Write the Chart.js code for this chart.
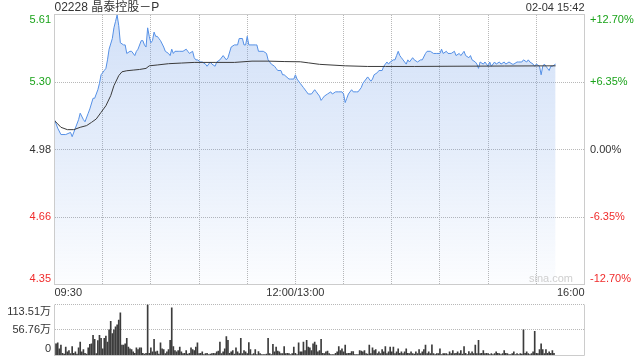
<!DOCTYPE html>
<html>
<head>
<meta charset="utf-8">
<script src="https://cdn.jsdelivr.net/npm/chart.js@4.4.1/dist/chart.umd.min.js"></script>
<style>
  html, body { margin: 0; padding: 0; background: #fff; }
  #wrap { position: relative; width: 640px; height: 360px; }
  #price { position: absolute; left: 0; top: 0; }
  #volume { position: absolute; left: 0; top: 300px; }
</style>
</head>
<body>
<div id="wrap">
  <canvas id="price" width="640" height="300"></canvas>
  <canvas id="volume" width="640" height="60"></canvas>
</div>
<script>
const stockTitle = '02228 晶泰控股－P';
const stampText = '02-04 15:42';
const watermark = 'sina.com';
const prevClose = 4.98;
const pctSteps = [-12.70, -6.35, 0, 6.35, 12.70];
const priceTickLabels = ['4.35', '4.66', '4.98', '5.30', '5.61'];
const pctTickLabels = ['-12.70%', '-6.35%', '0.00%', '+6.35%', '+12.70%'];
const timeLabels = ['09:30', '12:00/13:00', '16:00'];
const timeLabelMinutes = [0, 150, 330];
const volTicks = [0, 56.76, 113.51];
const volTickLabels = ['0', '56.76万', '113.51万'];

// minutes after 09:30 (lunch break removed), last price
const priceMinutes = [0, 2, 4, 7, 10, 11, 13, 15, 16, 18, 19, 21, 22, 24, 25, 27, 28, 29, 31, 32,
  33, 34, 36, 37, 38, 39, 40, 41, 43, 44, 45, 47, 48, 50, 51, 52, 54, 55, 56, 57,
  58, 59, 60, 61, 62, 63, 64, 65, 66, 68, 69, 71, 72, 73, 74, 75, 77, 78, 80, 82,
  83, 84, 86, 87, 88, 89, 91, 92, 94, 95, 97, 98, 100, 101, 103, 105, 107, 108, 110, 112,
  114, 115, 117, 118, 119, 120, 121, 123, 125, 126, 127, 130, 132, 133, 135, 137, 138, 139, 141, 142,
  143, 146, 147, 149, 150, 151, 153, 155, 157, 158, 160, 162, 163, 165, 166, 167, 168, 170, 172, 173,
  175, 177, 179, 180, 181, 182, 183, 185, 186, 188, 189, 191, 192, 194, 195, 197, 198, 199, 201, 202,
  204, 205, 206, 207, 208, 209, 211, 212, 213, 214, 215, 216, 217, 219, 220, 221, 223, 224,
  226, 228, 229, 231, 232, 234, 236, 238, 240, 241, 242, 244, 245, 247, 249, 250, 252, 253, 255, 256,
  258, 259, 260, 262, 263, 264, 265, 267, 268, 269, 270, 271, 272, 274, 275, 277, 278, 280, 281, 283,
  285, 286, 288, 289, 291, 292, 294, 295, 296, 298, 299, 300, 302, 303, 304, 305, 306, 307, 308, 309,
  310, 312];
const prices = [5.12, 5.08, 5.05, 5.05, 5.06, 5.04, 5.08, 5.12, 5.15, 5.12, 5.11, 5.15, 5.17, 5.22, 5.22, 5.26, 5.29, 5.33, 5.35, 5.36,
  5.40, 5.45, 5.50, 5.55, 5.58, 5.61, 5.56, 5.48, 5.47, 5.47, 5.43, 5.44, 5.44, 5.42, 5.44, 5.45, 5.49, 5.49, 5.47, 5.46,
  5.55, 5.51, 5.48, 5.49, 5.53, 5.51, 5.51, 5.50, 5.49, 5.46, 5.44, 5.43, 5.42, 5.45, 5.43, 5.44, 5.44, 5.44, 5.44, 5.45,
  5.44, 5.43, 5.44, 5.41, 5.40, 5.40, 5.39, 5.39, 5.38, 5.37, 5.39, 5.38, 5.37, 5.39, 5.40, 5.42, 5.40, 5.41, 5.46, 5.47,
  5.47, 5.50, 5.50, 5.47, 5.47, 5.51, 5.47, 5.47, 5.47, 5.47, 5.44, 5.44, 5.43, 5.40, 5.38, 5.37, 5.36, 5.35, 5.35, 5.33,
  5.33, 5.31, 5.31, 5.31, 5.33, 5.31, 5.29, 5.27, 5.25, 5.24, 5.24, 5.26, 5.25, 5.23, 5.21, 5.22, 5.23, 5.24, 5.25, 5.24,
  5.25, 5.25, 5.25, 5.24, 5.20, 5.22, 5.24, 5.26, 5.25, 5.25, 5.25, 5.27, 5.29, 5.31, 5.32, 5.30, 5.31, 5.33, 5.34, 5.35,
  5.35, 5.37, 5.38, 5.39, 5.38, 5.39, 5.40, 5.40, 5.42, 5.44, 5.42, 5.41, 5.40, 5.38, 5.40, 5.39, 5.41, 5.40,
  5.39, 5.40, 5.40, 5.43, 5.44, 5.44, 5.43, 5.43, 5.43, 5.45, 5.43, 5.44, 5.43, 5.43, 5.44, 5.42, 5.43, 5.42, 5.44, 5.42,
  5.41, 5.42, 5.40, 5.39, 5.38, 5.36, 5.39, 5.38, 5.39, 5.38, 5.37, 5.39, 5.37, 5.39, 5.38, 5.39, 5.38, 5.39, 5.38, 5.39,
  5.38, 5.38, 5.39, 5.39, 5.39, 5.40, 5.39, 5.40, 5.39, 5.38, 5.37, 5.38, 5.37, 5.33, 5.37, 5.38, 5.37, 5.36, 5.35, 5.37,
  5.37, 5.38];

// running average price
const avgMinutes = [0, 2, 4, 8, 12, 16, 20, 23, 26, 29, 32, 35, 37, 40, 42, 45, 49, 53, 57, 59,
  64, 71, 79, 87, 100, 112, 123, 133, 143, 153, 158, 165, 181, 195, 206, 224, 245, 280, 312];
const avgPrices = [5.115, 5.100, 5.084, 5.073, 5.073, 5.084, 5.092, 5.107, 5.123, 5.154, 5.185, 5.232, 5.279, 5.326, 5.344, 5.349, 5.352, 5.355, 5.360, 5.372,
  5.376, 5.382, 5.385, 5.388, 5.388, 5.388, 5.394, 5.394, 5.392, 5.391, 5.386, 5.379, 5.372, 5.369, 5.369, 5.369, 5.370, 5.371, 5.372];

// volume per minute, 万股
const volumes = [
  26, 26, 28, 15, 23, 5, 3, 19, 8, 11,
  4, 20, 5, 8, 3, 17, 30, 8, 13, 5,
  3, 17, 25, 26, 45, 36, 4, 33, 45, 38,
  15, 38, 43, 30, 57, 76, 49, 57, 64, 68,
  79, 95, 23, 23, 26, 38, 19, 15, 13, 8,
  5, 17, 13, 17, 17, 5, 3, 5, 113.5, 5,
  17, 8, 36, 8, 10, 3, 28, 15, 13, 4,
  8, 13, 34, 106, 20, 11, 8, 11, 19, 8,
  4, 5, 11, 3, 5, 17, 13, 11, 19, 28,
  4, 5, 8, 2, 4, 5, 2, 3, 4, 5,
  4, 8, 10, 30, 4, 8, 15, 42, 34, 5,
  8, 11, 3, 17, 8, 4, 38, 4, 11, 8,
  4, 29, 13, 2, 4, 13, 2, 9, 4, 2,
  2, 2, 3, 38, 4, 2, 25, 8, 19, 10,
  8, 4, 4, 20, 4, 5, 4, 2, 4, 19,
  5, 2, 28, 8, 8, 30, 11, 34, 19, 17,
  11, 26, 30, 23, 8, 11, 36, 5, 4, 8,
  10, 4, 2, 2, 2, 5, 8, 20, 11, 15,
  8, 23, 4, 5, 5, 9, 9, 2, 2, 2,
  11, 10, 8, 11, 4, 3, 23, 4, 17, 11,
  13, 4, 8, 4, 13, 8, 20, 4, 8, 19,
  8, 19, 4, 8, 15, 5, 8, 4, 8, 15,
  5, 4, 8, 4, 3, 8, 4, 13, 4, 8,
  13, 23, 4, 8, 4, 24, 4, 2, 4, 4,
  15, 2, 4, 4, 4, 2, 8, 4, 11, 4,
  5, 8, 4, 11, 3, 20, 5, 2, 9, 4,
  8, 4, 23, 4, 34, 4, 5, 11, 4, 5,
  4, 2, 4, 2, 4, 8, 5, 4, 2, 4,
  11, 5, 4, 2, 2, 4, 8, 2, 4, 2,
  4, 3, 57, 5, 8, 4, 2, 4, 8, 54,
  5, 4, 13, 26, 13, 4, 13, 5, 8, 5, 11, 5
];

const FONT = '"Liberation Sans", Arial, "Noto Sans CJK SC", sans-serif';
const GREEN = '#1aa31a';
const RED = '#f02c2c';
const DARK = '#333333';
const GRID = '#b8b8b8';
const FRAME = '#cccccc';

const pctValues = pctSteps.map(p => prevClose * (1 + p / 100));

function pctColor(p) {
    if (p > 0) return GREEN;
    if (p < 0) return RED;
    return DARK;
}

// dotted grid on whole pixels, positions from the chart's scales
function dottedGrid(chart, yValues, xValues) {
    const {ctx, chartArea: a, scales: {x, y}} = chart;
    const left = Math.ceil(a.left), right = Math.floor(a.right);
    const top = Math.ceil(a.top), bottom = Math.floor(a.bottom);
    ctx.save();
    ctx.strokeStyle = GRID;
    ctx.lineWidth = 1;
    ctx.setLineDash([1, 1]);
    ctx.beginPath();
    yValues.forEach(v => {
        const py = Math.floor(y.getPixelForValue(v)) + 0.5;
        ctx.moveTo(left, py);
        ctx.lineTo(right, py);
    });
    xValues.forEach(v => {
        const px = Math.floor(x.getPixelForValue(v)) + 0.5;
        ctx.moveTo(px, top);
        ctx.lineTo(px, bottom);
    });
    ctx.stroke();
    ctx.restore();
}

// draws grid, frame and all the texts around the price panel
const priceDecor = {
    id: 'priceDecor',
    beforeDatasetsDraw(chart) {
        const xs = chart.scales.x.ticks.map(t => t.value);
        dottedGrid(chart, pctValues, xs);
    },
    afterDraw(chart) {
        const {ctx, chartArea: a, scales: {x, y}} = chart;
        ctx.save();
        ctx.strokeStyle = FRAME;
        ctx.lineWidth = 1;
        ctx.strokeRect(a.left, a.top, a.right - a.left, a.bottom - a.top);

        ctx.font = '11px ' + FONT;
        pctValues.forEach((v, i) => {
            const py = y.getPixelForValue(v);
            ctx.textBaseline = i === 0 ? 'bottom' : (i === pctValues.length - 1 ? 'top' : 'middle');
            ctx.fillStyle = pctColor(pctSteps[i]);
            ctx.textAlign = 'right';
            ctx.fillText(priceTickLabels[i], 51, py);
            ctx.textAlign = 'left';
            ctx.fillText(pctTickLabels[i], 590, py);
        });

        ctx.fillStyle = DARK;
        ctx.textBaseline = 'middle';
        timeLabels.forEach((t, i) => {
            const m = timeLabelMinutes[i];
            ctx.textAlign = m === x.min ? 'left' : (m === x.max ? 'right' : 'center');
            ctx.fillText(t, x.getPixelForValue(m), 293);
        });

        ctx.textAlign = 'right';
        ctx.fillText(stampText, a.right, 8);

        ctx.fillStyle = '#cfcfcf';
        ctx.fillText(watermark, 573, 279);

        ctx.font = '12px ' + FONT;
        ctx.fillStyle = DARK;
        ctx.textAlign = 'left';
        ctx.fillText(stockTitle, a.left, 8);
        ctx.restore();
    }
};

const volumeDecor = {
    id: 'volumeDecor',
    beforeDatasetsDraw(chart) {
        dottedGrid(chart, volTicks.slice(1), []);
    },
    afterDraw(chart) {
        const {ctx, chartArea: a, scales: {y}} = chart;
        ctx.save();
        ctx.strokeStyle = FRAME;
        ctx.lineWidth = 1;
        ctx.beginPath();
        ctx.moveTo(a.left, a.top);
        ctx.lineTo(a.left, a.bottom);
        ctx.lineTo(a.right, a.bottom);
        ctx.lineTo(a.right, a.top);
        ctx.stroke();

        ctx.font = '11px ' + FONT;
        ctx.fillStyle = DARK;
        ctx.textAlign = 'right';
        volTicks.forEach((v, i) => {
            ctx.textBaseline = i === 0 ? 'bottom' : (i === volTicks.length - 1 ? 'top' : 'middle');
            const py = y.getPixelForValue(v) + (i === volTicks.length - 1 ? 2 : (i === 0 ? -1 : 0));
            ctx.fillText(volTickLabels[i], 51, py);
        });
        ctx.restore();
    }
};

const hiddenAxis = {
    ticks: {display: false},
    border: {display: false},
    grid: {display: false, drawTicks: false}
};

new Chart(document.getElementById('price'), {
    type: 'line',
    data: {
        datasets: [
            {
                label: 'avg',
                data: avgMinutes.map((m, i) => ({x: m, y: avgPrices[i]})),
                borderColor: '#3b3b3b',
                borderWidth: 1,
                pointRadius: 0,
                fill: false
            },
            {
                label: 'price',
                data: priceMinutes.map((m, i) => ({x: m, y: prices[i]})),
                borderColor: '#5590e6',
                borderWidth: 1,
                pointRadius: 0,
                fill: 'start',
                backgroundColor: (context) => {
                    const {ctx, chartArea} = context.chart;
                    if (!chartArea) return 'rgba(100,150,230,0.25)';
                    const g = ctx.createLinearGradient(0, chartArea.top, 0, chartArea.bottom);
                    g.addColorStop(0, 'rgba(100,150,230,0.29)');
                    g.addColorStop(0.5, 'rgba(100,150,230,0.17)');
                    g.addColorStop(1, 'rgba(100,150,230,0.02)');
                    return g;
                }
            }
        ]
    },
    options: {
        responsive: false,
        animation: false,
        devicePixelRatio: 1,
        layout: {padding: {left: 54.5, right: 55.5, top: 14.5, bottom: 15.5}},
        plugins: {legend: {display: false}, tooltip: {enabled: false}},
        scales: {
            x: {
                ...hiddenAxis,
                type: 'linear',
                min: 0,
                max: 330,
                ticks: {display: false, stepSize: 30},
                afterFit: s => { s.height = 0; }
            },
            y: {
                ...hiddenAxis,
                min: pctValues[0],
                max: pctValues[pctValues.length - 1],
                afterFit: s => { s.width = 0; }
            }
        }
    },
    plugins: [priceDecor]
});

new Chart(document.getElementById('volume'), {
    type: 'bar',
    data: {
        datasets: [{
            label: 'volume',
            data: volumes.map((v, i) => ({x: i, y: v})),
            backgroundColor: '#3c3c3c',
            barThickness: 1
        }]
    },
    options: {
        responsive: false,
        animation: false,
        devicePixelRatio: 1,
        layout: {padding: {left: 54.5, right: 55.5, top: 4.5, bottom: 4.5}},
        plugins: {legend: {display: false}, tooltip: {enabled: false}},
        scales: {
            x: {
                type: 'linear',
                min: 0,
                max: 330,
                offset: false,
                ticks: {display: false},
                border: {display: false},
                grid: {display: false},
                afterFit: s => { s.height = 0; }
            },
            y: {
                ...hiddenAxis,
                min: 0,
                max: volTicks[volTicks.length - 1],
                afterFit: s => { s.width = 0; }
            }
        }
    },
    plugins: [volumeDecor]
});
</script>
</body>
</html>
